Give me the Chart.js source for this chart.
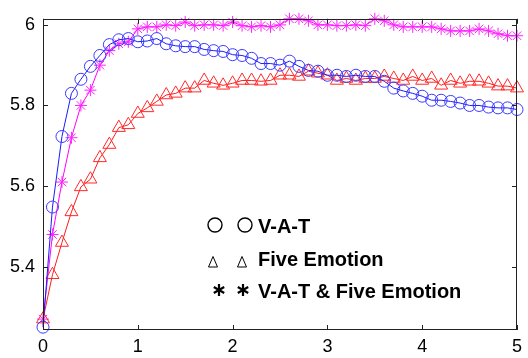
<!DOCTYPE html>
<html>
<head>
<meta charset="utf-8">
<script src="https://cdn.jsdelivr.net/npm/chart.js@4/dist/chart.umd.min.js"></script>
<style>
  html, body { margin: 0; padding: 0; background: #fff; }
  #wrap { width: 528px; height: 358px; position: relative; }
</style>
</head>
<body>
<div id="wrap"><canvas id="lineChart" width="528" height="358"></canvas></div>
<script>
// time axis (0 .. 5, step 0.1)
var xValues = [0, 0.1, 0.2, 0.3, 0.4, 0.5, 0.6, 0.7, 0.8, 0.9,
  1, 1.1, 1.2, 1.3, 1.4, 1.5, 1.6, 1.7, 1.8, 1.9,
  2, 2.1, 2.2, 2.3, 2.4, 2.5, 2.6, 2.7, 2.8, 2.9,
  3, 3.1, 3.2, 3.3, 3.4, 3.5, 3.6, 3.7, 3.8, 3.9,
  4, 4.1, 4.2, 4.3, 4.4, 4.5, 4.6, 4.7, 4.8, 4.9, 5];

var vatValues = [5.25, 5.548, 5.723, 5.83, 5.865, 5.897, 5.924, 5.951, 5.963, 5.966,
  5.958, 5.96, 5.966, 5.953, 5.948, 5.946, 5.946, 5.939, 5.936, 5.934,
  5.926, 5.924, 5.917, 5.904, 5.904, 5.9, 5.91, 5.897, 5.887, 5.885,
  5.875, 5.875, 5.872, 5.875, 5.872, 5.872, 5.86, 5.843, 5.836, 5.83,
  5.823, 5.813, 5.813, 5.81, 5.806, 5.8, 5.8, 5.796, 5.794, 5.794, 5.79];

var fiveEmotionValues = [5.27, 5.38, 5.46, 5.536, 5.598, 5.617, 5.67, 5.703, 5.745, 5.752,
  5.78, 5.794, 5.81, 5.826, 5.83, 5.843, 5.843, 5.862, 5.855, 5.85,
  5.855, 5.862, 5.862, 5.86, 5.862, 5.875, 5.875, 5.872, 5.885, 5.88,
  5.875, 5.862, 5.867, 5.862, 5.867, 5.867, 5.872, 5.867, 5.862, 5.872,
  5.862, 5.867, 5.85, 5.862, 5.855, 5.86, 5.86, 5.855, 5.848, 5.848, 5.843];

var combinedValues = [5.27, 5.48, 5.61, 5.72, 5.8, 5.838, 5.9, 5.936, 5.953, 5.958,
  5.99, 5.995, 5.995, 6.0, 5.998, 6.007, 5.998, 6.0, 6.0, 5.998,
  6.007, 5.998, 5.995, 5.998, 5.995, 6.0, 6.015, 6.015, 6.01, 6.0,
  6.0, 5.998, 5.998, 6.0, 5.998, 6.015, 6.01, 6.0, 5.995, 5.995,
  5.995, 5.995, 5.99, 5.985, 5.985, 5.985, 5.99, 5.985, 5.978, 5.973, 5.973];

var xTicks = [0, 1, 2, 3, 4, 5];
var yTicks = [5.4, 5.6, 5.8, 6];

var legendLabels = ['V-A-T', 'Five Emotion', 'V-A-T & Five Emotion'];

function toPoints(ys) {
  return ys.map(function(y, i) { return { x: xValues[i], y: y }; });
}

// box round the plot, with matlab style ticks pointing inwards
var boxPlugin = {
  id: 'box',
  afterDraw: function(chart) {
    var ctx = chart.ctx;
    var a = chart.chartArea;
    var xs = chart.scales.x, ys = chart.scales.y;
    ctx.save();
    ctx.strokeStyle = '#222';
    ctx.lineWidth = 1;
    ctx.strokeRect(Math.round(a.left) + 0.5, Math.round(a.top) + 0.5,
      Math.round(a.right - a.left) - 1, Math.round(a.bottom - a.top) - 1);
    ctx.beginPath();
    xTicks.forEach(function(v) {
      var px = Math.round(xs.getPixelForValue(v)) + 0.5;
      ctx.moveTo(px, a.bottom); ctx.lineTo(px, a.bottom - 5);
      ctx.moveTo(px, a.top); ctx.lineTo(px, a.top + 5);
    });
    yTicks.forEach(function(v) {
      var py = Math.round(ys.getPixelForValue(v)) + 0.5;
      ctx.moveTo(a.left, py); ctx.lineTo(a.left + 5, py);
      ctx.moveTo(a.right, py); ctx.lineTo(a.right - 5, py);
    });
    ctx.stroke();
    ctx.restore();
  }
};

// text legend inside the plot, black symbols drawn twice before each label
var textLegendPlugin = {
  id: 'textLegend',
  afterDraw: function(chart) {
    var ctx = chart.ctx;
    var baselines = [233, 266, 298];
    var symX = [[215, 245], [213, 242], [219, 243]];
    var symY = [225, 262, 290];
    ctx.save();
    ctx.strokeStyle = '#000';
    ctx.fillStyle = '#000';
    for (var i = 0; i < 3; i++) {
      symX[i].forEach(function(cx) {
        var cy = symY[i];
        ctx.beginPath();
        if (i === 0) {
          ctx.lineWidth = 1.4;
          ctx.arc(cx, cy, 7, 0, Math.PI * 2);
        } else if (i === 1) {
          ctx.lineWidth = 1;
          ctx.moveTo(cx, cy - 5.5);
          ctx.lineTo(cx + 4.5, cy + 5);
          ctx.lineTo(cx - 4.5, cy + 5);
          ctx.closePath();
        } else {
          ctx.lineWidth = 2.2;
          for (var k = 0; k < 3; k++) {
            var ang = Math.PI / 2 + k * Math.PI / 3;
            ctx.moveTo(cx + Math.cos(ang) * 6, cy + Math.sin(ang) * 6);
            ctx.lineTo(cx - Math.cos(ang) * 6, cy - Math.sin(ang) * 6);
          }
        }
        ctx.stroke();
      });
      ctx.textAlign = 'left';
      ctx.textBaseline = 'alphabetic';
      ctx.font = 'bold 20px "Liberation Sans"';
      ctx.fillText(legendLabels[i], 258, baselines[i]);
    }
    ctx.restore();
  }
};

var ctx = document.getElementById('lineChart').getContext('2d');

new Chart(ctx, {
  type: 'line',
  data: {
    datasets: [{
      label: 'V-A-T',
      data: toPoints(vatValues),
      borderColor: '#1a1aff',
      borderWidth: 1,
      pointStyle: 'circle',
      pointRadius: 6,
      pointBorderColor: '#3a3aff',
      pointBackgroundColor: 'rgba(0,0,0,0)',
      pointBorderWidth: 1,
      tension: 0,
      clip: false
    }, {
      label: 'Five Emotion',
      data: toPoints(fiveEmotionValues),
      borderColor: '#ff1a1a',
      borderWidth: 1,
      pointStyle: 'triangle',
      pointRadius: 7.5,
      pointBorderColor: '#ff2a2a',
      pointBackgroundColor: 'rgba(0,0,0,0)',
      pointBorderWidth: 1,
      tension: 0,
      clip: false
    }, {
      label: 'V-A-T & Five Emotion',
      data: toPoints(combinedValues),
      borderColor: '#ff00ff',
      borderWidth: 1,
      pointStyle: 'star',
      pointRadius: 6,
      pointBorderColor: '#ff22ff',
      pointBackgroundColor: 'rgba(0,0,0,0)',
      pointBorderWidth: 1,
      tension: 0,
      clip: false
    }]
  },
  options: {
    responsive: false,
    animation: false,
    layout: { padding: { top: 15, right: 5, left: 0, bottom: 0 } },
    plugins: {
      legend: { display: false },
      tooltip: { enabled: false }
    },
    scales: {
      x: {
        type: 'linear',
        min: 0,
        max: 5,
        grid: { display: false, drawTicks: false },
        border: { display: false },
        afterBuildTicks: function(scale) {
          scale.ticks = xTicks.map(function(v) { return { value: v }; });
        },
        afterFit: function(scale) { scale.height = 28; },
        ticks: {
          color: '#000',
          padding: 6,
          maxRotation: 0,
          font: { family: '"Liberation Sans", Arial, sans-serif', size: 18 }
        }
      },
      y: {
        type: 'linear',
        min: 5.243,
        max: 6.015,
        grid: { display: false, drawTicks: false },
        border: { display: false },
        afterBuildTicks: function(scale) {
          scale.ticks = yTicks.map(function(v) { return { value: v }; });
        },
        afterFit: function(scale) { scale.width = 43; },
        ticks: {
          color: '#000',
          padding: 8,
          font: { family: '"Liberation Sans", Arial, sans-serif', size: 18 },
          callback: function(v) { return String(Math.round(v * 10) / 10); }
        }
      }
    }
  },
  plugins: [boxPlugin, textLegendPlugin]
});
</script>
</body>
</html>
